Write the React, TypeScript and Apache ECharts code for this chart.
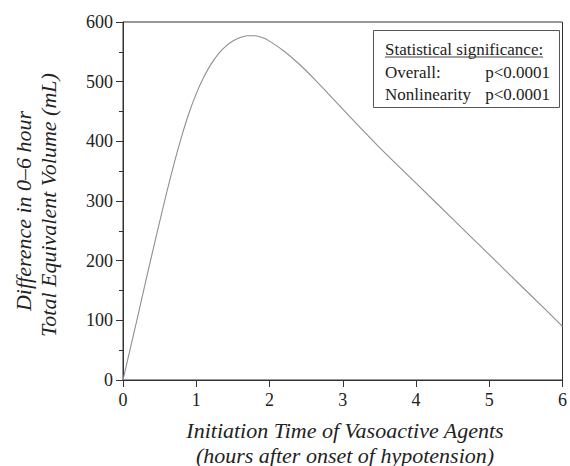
import React, { useEffect, useRef } from "react";
import * as echarts from "echarts";

const xValues = [0, 0.1, 0.2, 0.3, 0.4, 0.5, 0.6, 0.7, 0.8, 0.9, 1.0, 1.1, 1.2, 1.3, 1.4, 1.5, 1.6, 1.7, 1.8, 1.9, 2.0, 2.2, 2.4, 2.6, 2.8, 3.0, 3.2, 3.5, 4.0, 4.5, 5.0, 5.5, 6.0];
const yValues = [0, 53, 106, 160, 213, 265, 316, 364, 408, 447, 480, 507, 529, 546, 559, 568, 574, 577, 577, 574, 568, 551, 530, 506, 480, 454, 428, 390, 330, 270, 210, 150, 90];
const xTicks = [0, 1, 2, 3, 4, 5, 6];
const yTicks = [0, 100, 200, 300, 400, 500, 600];
const xTitle = ["Initiation Time of Vasoactive Agents", "(hours after onset of hypotension)"];
const yTitle = ["Difference in 0\u20136 hour", "Total Equivalent Volume (mL)"];
const legendTitle = "Statistical significance:";
const legendRows = [
  ["Overall:", "p<0.0001"],
  ["Nonlinearity", "p<0.0001"],
];

const FONT = "Liberation Serif";
const TXT = "#222";
const AX = "#333";

function txt(text: string, x: number, y: number, size: number, italic: boolean, align: string, rot = 0) {
  const style: any = { text, fontFamily: FONT, fontSize: size, fill: TXT, align, verticalAlign: "middle" };
  if (italic) style.fontStyle = "italic";
  return { type: "text", x, y, rotation: rot, style };
}

export default function App() {
  const ref = useRef<HTMLDivElement>(null);
  useEffect(() => {
    if (!ref.current) return;
    const chart = echarts.init(ref.current, null, { renderer: "svg" });
    const data = xValues.map((x, i) => [x, yValues[i]]);
    chart.setOption({
      animation: false,
      textStyle: { fontFamily: FONT },
      grid: { left: 123, top: 22, width: 443, height: 358, show: true, borderColor: AX, borderWidth: 1, backgroundColor: "transparent" },
      xAxis: {
        type: "value",
        min: xTicks[0],
        max: xTicks[xTicks.length - 1],
        interval: 1,
        axisLine: { show: true, onZero: false, lineStyle: { color: AX, width: 1 } },
        axisTick: { show: true, length: 7, lineStyle: { color: AX } },
        splitLine: { show: false },
        axisLabel: { margin: 11, fontFamily: FONT, fontSize: 18, color: TXT, showMaxLabel: true },
      },
      yAxis: {
        type: "value",
        min: yTicks[0],
        max: yTicks[yTicks.length - 1],
        interval: 100,
        axisLine: { show: true, lineStyle: { color: AX, width: 1 } },
        axisTick: { show: true, length: 7, lineStyle: { color: AX } },
        minorTick: { show: true, splitNumber: 2, length: 4, lineStyle: { color: AX } },
        splitLine: { show: false },
        axisLabel: { margin: 10, fontFamily: FONT, fontSize: 18, color: TXT },
      },
      series: [
        {
          type: "line",
          data,
          smooth: 0.25,
          showSymbol: false,
          lineStyle: { color: "#8f8f8f", width: 1.1 },
        },
      ],
      graphic: [
        txt(xTitle[0], 345, 430, 22, true, "center"),
        txt(xTitle[1], 345, 455, 22, true, "center"),
        txt(yTitle[0], 23, 211, 22, true, "center", Math.PI / 2),
        txt(yTitle[1], 48, 205, 22, true, "center", Math.PI / 2),
        { type: "rect", shape: { x: 373.5, y: 30.5, width: 186, height: 77 }, style: { fill: "#fff", stroke: "#555", lineWidth: 1 } },
        txt(legendTitle, 385, 49, 17, false, "left"),
        { type: "line", shape: { x1: 385, y1: 57, x2: 543, y2: 57 }, style: { stroke: "#444", lineWidth: 1 } },
        txt(legendRows[0][0], 385, 72, 17, false, "left"),
        txt(legendRows[0][1], 550, 72, 17, false, "right"),
        txt(legendRows[1][0], 385, 94, 17, false, "left"),
        txt(legendRows[1][1], 550, 94, 17, false, "right"),
      ],
    });
    return () => chart.dispose();
  }, []);
  return <div ref={ref} style={{ width: 570, height: 466, position: "absolute", left: 0, top: 0, background: "#fff" }} />;
}
